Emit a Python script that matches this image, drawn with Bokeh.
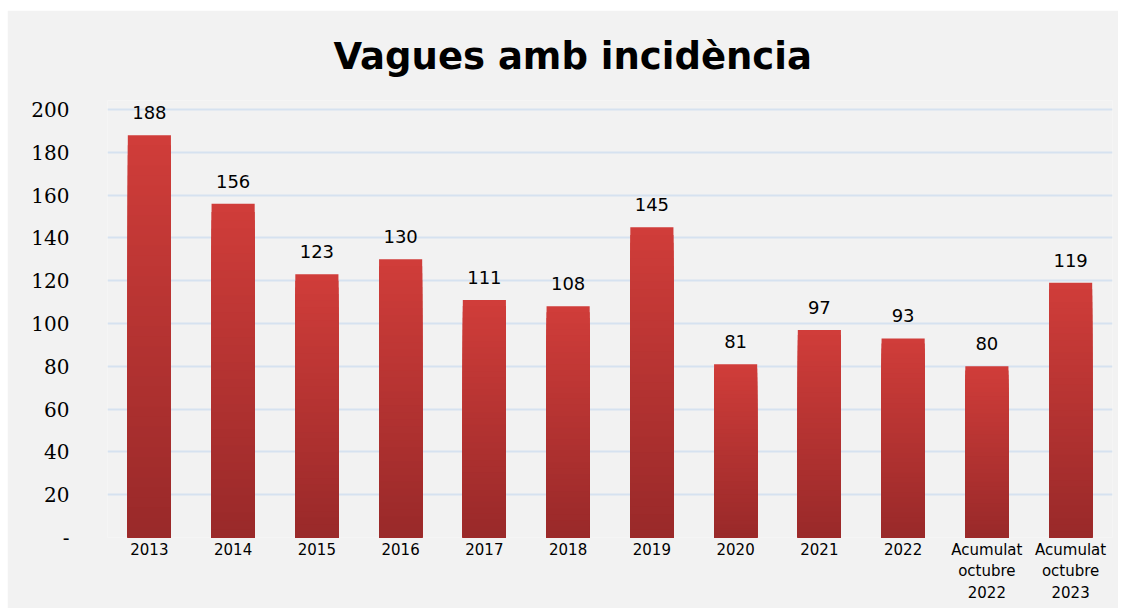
from bokeh.plotting import figure
from bokeh.models import ColumnDataSource, LabelSet, Range1d, FactorRange
from bokeh.core.properties import value
from bokeh.embed import file_html
from bokeh.resources import INLINE

categories = ["2013", "2014", "2015", "2016", "2017", "2018", "2019", "2020",
              "2021", "2022", "Acumulat\noctubre\n2022", "Acumulat\noctubre\n2023"]
values = [188, 156, 123, 130, 111, 108, 145, 81, 97, 93, 80, 119]
y_ticks = [0, 20, 40, 60, 80, 100, 120, 140, 160, 180, 200]
y_tick_labels = {0: "-"}

title_text = "Vagues amb incidència"

BG = "#f2f2f2"
TOP = (208, 61, 58)
BOTTOM = (154, 42, 42)

p = figure(width=1111, height=598, x_range=FactorRange(*categories, range_padding=0),
           y_range=Range1d(0, 204.2), output_backend="svg", toolbar_location=None,
           title=title_text, min_border_left=100, min_border_right=6,
           min_border_top=90, min_border_bottom=71)
p.margin = (10, 0, 0, 7)

p.background_fill_color = BG
p.border_fill_color = BG
p.outline_line_color = None

p.title.align = "left"
p.title.offset = 226
p.title.text_font = "DejaVu Sans"
p.title.text_font_style = "bold"
p.title.text_font_size = "37px"
p.title.text_color = "#000000"
p.title.standoff = 45

# gradient bars: stacked overlapping bars, light at top, dark at bottom
N = 40
for k in range(N):
    f = 1 - k / N
    t = k / (N - 1)
    r = int(TOP[0] + (BOTTOM[0] - TOP[0]) * t)
    g = int(TOP[1] + (BOTTOM[1] - TOP[1]) * t)
    b = int(TOP[2] + (BOTTOM[2] - TOP[2]) * t)
    col = "#%02x%02x%02x" % (r, g, b)
    p.vbar(x=categories, top=[v * f for v in values], bottom=0, width=0.515,
           fill_color=col, line_color=None)

src = ColumnDataSource(dict(x=categories, y=values, t=[str(v) for v in values]))
labels = LabelSet(x="x", y="y", text="t", source=src, text_align="center",
                  text_baseline="bottom", y_offset=16, text_font=value("DejaVu Sans"),
                  text_font_size=value("18px"), text_color="#000000")
p.add_layout(labels)

p.xgrid.grid_line_color = None
p.ygrid.grid_line_color = "#d6e2f0"
p.ygrid.grid_line_width = 2
p.yaxis.ticker = y_ticks
p.yaxis.major_label_overrides = y_tick_labels
p.yaxis.major_label_text_font = "DejaVu Serif"
p.yaxis.major_label_text_font_size = "20px"
p.yaxis.major_label_text_color = "#000000"
p.yaxis.major_label_standoff = 32

p.xaxis.major_label_text_font = "DejaVu Sans"
p.xaxis.major_label_text_font_size = "15px"
p.xaxis.major_label_text_color = "#000000"
p.xaxis.major_label_standoff = -3

for ax in (p.xaxis, p.yaxis):
    ax.axis_line_color = None
    ax.major_tick_line_color = None
    ax.minor_tick_line_color = None

open("out.html", "w").write(file_html(p, INLINE))
